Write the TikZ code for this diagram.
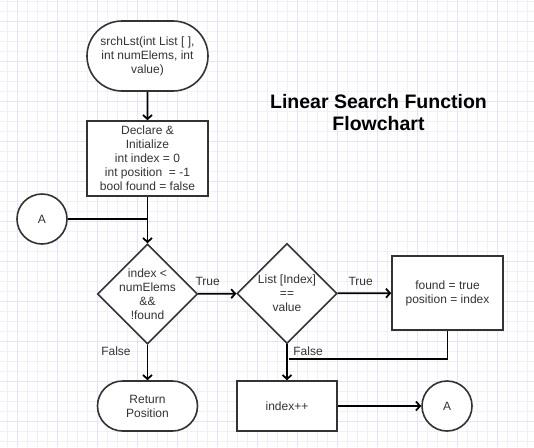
\documentclass[tikz,border=0pt]{standalone}
\usepackage{fontspec}
\setmainfont{Liberation Sans}
\usetikzlibrary{shapes.geometric,shapes.misc,arrows.meta}
\definecolor{gridminor}{HTML}{F0EFFB}
\definecolor{gridmajor}{HTML}{E6E3F7}
\definecolor{ink}{HTML}{333333}
\begin{document}
\begin{tikzpicture}[x=1pt,y=-1pt,
  shp/.style={draw=ink, line width=1.6pt, fill=white, inner sep=0pt,
              font=\fontsize{12}{14}\selectfont, text=ink, align=center},
  term/.style={shp, rounded rectangle},
  proc/.style={shp, rectangle},
  dia/.style={shp, diamond, aspect=1, minimum width=100pt, minimum height=100pt},
  conn/.style={shp, circle, minimum size=50pt},
  txt/.style={font=\fontsize{12}{14}\selectfont, text=ink, align=center, inner sep=0pt},
  arr/.style={line width=1.8pt, black, -{Straight Barb[length=4pt,width=9pt]}},
  ln/.style={line width=1.8pt, black},
]
\useasboundingbox (0,0) rectangle (534,447);
\fill[white] (0,0) rectangle (534,447);
% grid
\foreach \x in {7,17,...,527} {\draw[gridminor, line width=0.7pt] (\x,0) -- (\x,447);}
\foreach \y in {1,11,...,441} {\draw[gridminor, line width=0.7pt] (0,\y) -- (534,\y);}
\foreach \x in {17,57,...,527} {\draw[gridmajor, line width=0.7pt] (\x,0) -- (\x,447);}
\foreach \y in {21,61,...,441} {\draw[gridmajor, line width=0.7pt] (0,\y) -- (534,\y);}

% title
\node[font=\bfseries\fontsize{19.5}{22}\selectfont, align=center, inner sep=0pt] (title) at (378.5,112.5) {Linear Search Function\\Flowchart};

% nodes
\node[term, minimum width=121pt, minimum height=70pt] (start) at (147.5,56) {srchLst(int List [ ],\\int numElems, int\\value)};
\node[proc, minimum width=121pt, minimum height=75pt] (init) at (147.5,158.5) {Declare \&\\Initialize\\int index = 0\\int position\ \ = -1\\bool found = false};
\node[dia] (d1) at (147.5,294) {};
\node[txt] (d1t) at (d1) {index <\\numElems\\\&\&\\!found};
\node[dia] (d2) at (287,293.5) {};
\node[txt] (d2t) at (d2) {List [Index]\\==\\value};
\node[proc, minimum width=111pt, minimum height=74pt] (found) at (447.5,293) {found = true\\position = index};
\node[term, minimum width=100pt, minimum height=50pt] (ret) at (147.5,406) {Return\\Position};
\node[proc, minimum width=100pt, minimum height=50pt] (inc) at (287,406) {index++};
\node[conn] (ar) at (447,406) {A};
\node[conn] (al) at (42,219) {A};

\coordinate (join) at (147.5,219);
\coordinate (fb) at (447.5,359);
\coordinate (fe) at (289,359);

% connectors
\draw[arr] (start) -- (init);
\draw[arr] (init) -- (d1);
\draw[ln] (al) -- (join);
\draw[arr] (d1) -- node[txt, pos=0.25, above=7pt] (t1) {True} (d2);
\draw[arr] (d2) -- node[txt, pos=0.43, above=7pt] (t2) {True} (found);
\draw[arr] (d1) -- node[txt, pos=0.19, left=16pt] (f1) {False} (ret);
\draw[arr] (d2) -- node[txt, pos=0.2, right=5.5pt] (f2) {False} (inc);
\draw[ln] (found.south) -- (fb) -- (fe);
\draw[arr] (inc) -- (ar);
\end{tikzpicture}
\end{document}
